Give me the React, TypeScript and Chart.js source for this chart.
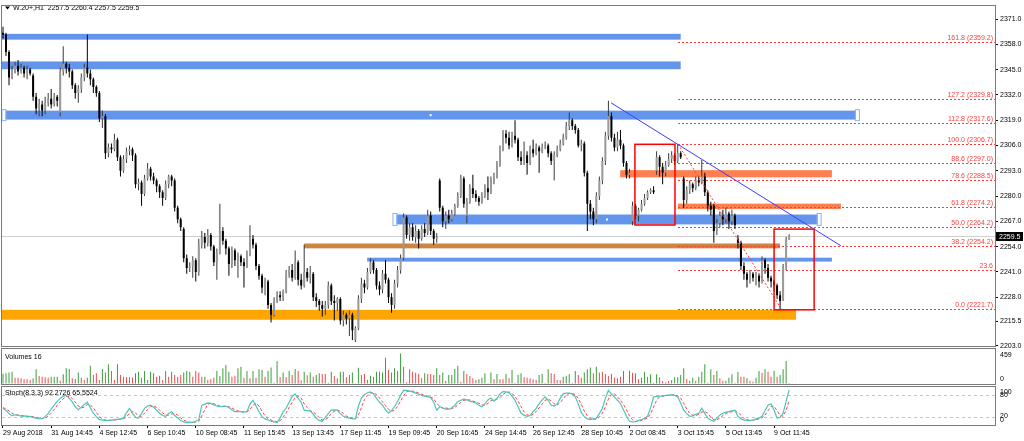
import React, { useEffect, useRef } from 'react';
import { Chart, registerables } from 'chart.js';

Chart.register(...registerables);

// ---------- price data (H1 bars, W.20+) ----------
const OPEN = [
  2364,2363,2354,2341,2345,2347,2344,2346,2343,2345,
  2342,2331,2325,2327,2324,2328,2330,2327,2331,2323,
  2344,2348,2346,2344,2337,2333,2335,2341,2346,2343,
  2340,2336,2333,2320,2321,2302,2305,2304,2309,2300,
  2293,2299,2303,2304,2301,2286,2287,2281,2289,2294,
  2290,2288,2285,2282,2279,2286,2290,2288,2274,2268,
  2263,2248,2243,2244,2247,2241,2255,2259,2256,2260,
  2254,2246,2251,2262,2257,2253,2245,2252,2247,2249,
  2246,2244,2250,2258,2255,2244,2239,2233,2236,2224,
  2219,2226,2229,2228,2231,2240,2242,2238,2246,2237,
  2234,2241,2238,2240,2228,2226,2224,2222,2224,2234,
  2226,2225,2227,2216,2219,2217,2219,2206,2212,2227,
  2235,2233,2241,2246,2242,2234,2232,2240,2237,2228,
  2224,2235,2242,2248,2269,2260,2264,2259,2262,2258,
  2263,2261,2270,2262,2258,2288,2274,2267,2270,2268,
  2271,2275,2280,2289,2270,2277,2284,2281,2279,2277,
  2280,2284,2282,2288,2290,2296,2304,2312,2310,2306,
  2311,2309,2300,2298,2301,2297,2304,2302,2305,2303,
  2305,2306,2302,2298,2301,2304,2307,2310,2316,2319,
  2316,2314,2306,2307,2292,2276,2272,2268,2280,2288,
  2298,2311,2321,2310,2305,2309,2306,2297,2291,2267,
  2275,2270,2273,2276,2279,2282,2283,2293,2300,2295,
  2292,2296,2299,2301,2298,2302,2289,2278,2283,2286,
  2284,2288,2287,2290,2282,2275,2275,2262,2266,2270,
  2268,2271,2267,2270,2258,2256,2244,2240,2237,2240,
  2238,2239,2236,2247,2243,2238,2236,2234,2229,2227,
  2243,2257.5,
];
const HIGH = [
  2367,2364,2355,2347,2349,2350,2348,2347,2347,2346,
  2343,2333,2330,2329,2331,2333,2335,2333,2332,2346,
  2357,2349,2348,2345,2338,2337,2343,2348,2363,2345,
  2341,2337,2334,2324,2322,2307,2307,2312,2310,2301,
  2301,2305,2306,2305,2302,2289,2288,2291,2297,2295,
  2292,2289,2286,2283,2288,2291,2291,2289,2275,2269,
  2264,2250,2246,2249,2248,2258,2262,2261,2263,2261,
  2255,2253,2276,2264,2258,2254,2254,2253,2251,2250,
  2248,2252,2265,2260,2256,2245,2240,2238,2237,2225,
  2228,2231,2231,2232,2242,2244,2245,2252,2247,2240,
  2255,2243,2244,2241,2230,2227,2226,2226,2236,2235,
  2229,2228,2228,2221,2220,2221,2220,2213,2229,2238,
  2237,2243,2248,2247,2243,2236,2242,2247,2238,2230,
  2237,2244,2250,2271,2270,2266,2266,2265,2263,2265,
  2266,2273,2272,2263,2261,2289,2275,2272,2273,2273,
  2276,2282,2291,2290,2279,2286,2291,2283,2280,2282,
  2286,2290,2290,2292,2298,2306,2314,2314,2313,2313,
  2319,2310,2303,2308,2303,2306,2309,2307,2306,2307,
  2308,2307,2303,2303,2306,2309,2312,2318,2323,2320,
  2317,2315,2309,2308,2293,2278,2274,2282,2290,2300,
  2313,2329,2323,2312,2313,2314,2307,2298,2294,2277,
  2276,2274,2278,2281,2283,2284,2285,2303,2301,2297,
  2298,2302,2303,2302,2306.7,2303,2290,2285,2288,2287,
  2290,2290,2298.5,2292,2283,2277,2276,2268,2272,2273,
  2274,2272,2273,2271,2260,2257,2246,2241,2242,2241,
  2241,2240,2249,2248,2245,2239,2237,2235,2231,2245,
  2259,2260.4,
];
const LOW = [
  2361,2352,2337,2340,2343,2342,2343,2341,2340,2342,
  2329,2322,2321,2321,2322,2326,2325,2326,2326,2321,
  2342,2343,2341,2335,2330,2328,2333,2339,2341,2337,
  2333,2331,2318,2315,2299,2300,2302,2303,2298,2290,
  2292,2297,2301,2298,2284,2283,2275,2280,2288,2288,
  2286,2282,2279,2275,2278,2284,2285,2272,2266,2262,
  2246,2240,2241,2238,2236,2239,2253,2253,2254,2252,
  2244,2237,2250,2255,2250,2239,2243,2244,2238,2244,
  2233,2243,2249,2253,2242,2237,2230,2229,2222,2215,
  2218,2225,2226,2226,2230,2238,2236,2237,2234,2232,
  2233,2236,2235,2226,2223,2221,2218,2219,2222,2224,
  2216,2221,2214,2213,2214,2208,2206,2205,2211,2225,
  2230,2232,2240,2240,2232,2229,2230,2235,2225,2220,
  2222,2233,2240,2247,2258,2257,2257,2256,2253,2257,
  2259,2260,2260,2255,2256,2272,2264,2263,2266,2267,
  2270,2274,2279,2274,2266,2276,2279,2277,2275,2276,
  2279,2278,2281,2286,2289,2295,2303,2307,2304,2305,
  2307,2298,2296,2296,2291,2296,2300,2301,2292,2302,
  2304,2300,2296,2288,2300,2303,2306,2309,2314,2314,
  2312,2305,2303,2290,2262,2268,2265,2266,2278,2286,
  2296,2309,2308,2303,2303,2304,2295,2289,2289,2265,
  2268,2267,2272,2275,2278,2281,2281,2291,2290,2286,
  2290,2295,2297,2296,2297,2299,2274,2276,2281,2282,
  2283,2285,2286,2280,2272,2270,2256,2260,2264,2265,
  2266,2263,2265,2263,2253,2242,2237,2233,2235,2236,
  2234,2233,2235,2240,2236,2233,2231,2227,2221.7,2226,
  2242,2257.5,
];
const CLOSE = [
  2363,2354,2341,2345,2347,2344,2346,2343,2345,2343,
  2331,2325,2327,2324,2328,2330,2327,2331,2329,2344,
  2348,2346,2344,2337,2333,2335,2341,2346,2343,2340,
  2336,2333,2320,2321,2302,2305,2304,2309,2300,2293,
  2299,2303,2304,2301,2286,2287,2281,2289,2294,2290,
  2288,2285,2282,2279,2286,2290,2288,2274,2268,2264,
  2248,2243,2244,2247,2241,2255,2259,2256,2260,2254,
  2246,2251,2262,2257,2253,2245,2252,2247,2249,2246,
  2244,2250,2258,2255,2244,2239,2233,2236,2224,2219,
  2226,2229,2228,2231,2240,2242,2238,2246,2237,2234,
  2241,2238,2240,2228,2226,2224,2222,2224,2234,2226,
  2225,2227,2216,2219,2217,2219,2211,2212,2227,2235,
  2233,2241,2246,2242,2234,2232,2240,2237,2228,2224,
  2235,2242,2248,2269,2260,2264,2259,2262,2258,2263,
  2261,2270,2262,2258,2259,2274,2267,2270,2268,2271,
  2275,2280,2289,2276,2277,2284,2281,2279,2277,2280,
  2284,2282,2288,2290,2296,2304,2312,2310,2306,2311,
  2309,2300,2298,2301,2297,2304,2302,2305,2303,2305,
  2306,2302,2298,2301,2304,2307,2310,2316,2319,2316,
  2314,2306,2307,2292,2276,2272,2268,2280,2288,2298,
  2311,2321,2310,2305,2309,2306,2297,2291,2292,2275,
  2270,2273,2276,2279,2282,2283,2282,2300,2295,2292,
  2296,2299,2301,2298,2302,2300,2278,2283,2286,2284,
  2288,2287,2290,2282,2275,2273,2262,2266,2270,2268,
  2271,2267,2270,2265,2256,2244,2240,2237,2240,2238,
  2239,2236,2247,2243,2238,2236,2234,2229,2226,2243,
  2257.5,2259.5,
];

// ---------- volumes ----------
const VOLUME = [
  150,160,172,182,94,94,84,69,74,59,84,217,
  118,108,99,94,108,108,108,49,143,232,
  222,84,74,172,94,59,94,271,133,158,
  59,222,172,291,192,59,291,133,108,99,
  99,94,158,182,94,192,59,182,158,108,
  123,59,192,108,182,133,108,133,172,192,
  182,108,192,172,108,108,59,69,94,192,
  118,232,281,182,108,123,232,256,94,192,
  84,192,94,217,207,108,
  192,246,20,340,99,172,99,197,133,222,
  192,54,182,128,172,108,133,158,148,148,
  20,182,118,84,182,182,99,133,172,10,
  241,133,148,59,123,108,182,182,172,389,
  207,172,232,192,453,256,25,217,182,168,
  148,84,158,148,148,133,232,133,172,44,
  133,133,222,271,35,192,148,118,84,59,
  69,94,158,10,172,69,148,69,69,148,
  84,207,20,133,158,99,94,
  84,69,59,133,148,20,217,158,148,59,
  59,108,123,143,20,192,133,94,172,217,
  246,158,256,172,182,148,118,148,94,84,
  108,192,10,197,168,158,69,94,182,108,
  143,20,143,99,44,25,44,59,99,99,
  133,232,74,49,94,49,108,182,291,20,
  217,133,192,84,49,49,94,143,20,182,
  108,108,84,49,35,94,192,168,217,182,
  108,197,108,133,217,340,16,
];
const VOLUME_UP = [
  1,1,
  1,1,0,0,0,0,0,0,1,1, 0,0,0,0,1,1,1,0,1,1, 1,0,1,1,0,0,1,1,0,0,
  0,1,0,1,0,0,1,0,0,0, 0,0,1,1,0,1,0,1,1,0, 1,0,1,0,1,0,0,0,1,1,
  1,0,0,0,0,1,0,0,0,1, 1,1,1,1,0,0,1,1,0,1, 0,1,0,1,1,0,
  1,1,0,1,0,1,0,1,0,1, 0,0,1,0,1,0,1,1,0,0, 1,1,0,0,1,1,0,1,1,0,
  1,0,0,0,1,0,1,0,1,1, 0,0,1,0,1,0,0,0,0,0, 0,0,1,0,0,0,1,0,1,0,
  1,1,1,1,0,1,0,0,0,0, 1,1,1,0,1,0,1,0,0,1, 0,1,0,1,1,0,0,
  0,0,0,1,1,0,1,0,0,0, 0,1,1,1,0,1,0,0,1,1, 1,0,1,0,0,0,0,1,0,0,
  0,1,0,1,0,0,0,1,1,0, 1,0,1,0,0,0,0,1,1,1, 1,1,0,1,1,0,1,1,1,0,
  1,0,1,0,0,1,1,1,0,1, 0,0,1,0,0,1,1,0,1,0, 0,1,0,1,1,1,0,
];

// ---------- stochastic (8,3,3) ----------
const STOCH_MAIN = [
  44,38,30,24,27,26,23,24,23,22,
  20,18,16,17,22,30,42,52,62,70,
  76,78,70,61,48,40,47,54,60,45,
  31,22,14,13,12,12,13,14,15,16,
  18,32,44,31,20,18,30,44,50,52,
  47,39,31,25,23,30,35,25,18,12,
  8,7,7,7,10,14,52,55,58,57,
  53,50,48,49,50,46,40,35,35,35,
  34,35,55,65,50,35,22,16,13,10,
  8,7,18,35,44,60,75,82,70,60,
  39,38,37,28,18,12,10,20,30,39,
  40,39,30,23,20,18,16,16,50,70,
  80,85,87,82,70,60,52,40,31,38,
  48,62,78,91,91,89,87,84,81,78,
  76,74,72,60,39,48,45,42,41,45,
  52,61,65,68,66,63,61,58,52,48,
  56,66,71,63,70,82,88,87,85,76,
  65,48,31,26,23,25,35,44,56,66,
  74,65,52,50,56,70,82,84,84,82,
  74,55,33,22,16,14,16,18,30,44,
  70,91,82,74,65,56,40,23,10,8,
  9,12,14,18,23,45,74,75,76,76,
  78,79,80,78,74,58,39,30,23,24,
  28,31,44,30,18,13,10,18,26,31,
  34,35,37,39,23,16,13,12,12,13,
  16,18,23,38,52,56,39,18,20,31,
  62,92.2726,
];
const STOCH_SIGNAL = [
  46,42,37,31,27,26,25,24,23,23,
  22,20,18,17,18,23,31,41,52,61,
  69,75,75,70,60,50,45,47,54,53,
  45,33,22,16,13,12,12,13,14,15,
  16,22,31,36,32,23,23,31,41,49,
  50,46,39,32,26,26,29,30,26,18,
  13,9,7,7,8,10,25,40,55,57,
  56,53,50,49,49,48,45,40,37,35,
  35,35,41,52,57,50,36,24,17,13,
  10,8,11,20,32,46,60,72,76,71,
  56,46,38,34,28,19,13,14,20,30,
  36,39,36,31,24,20,18,17,27,45,
  67,78,84,85,80,71,61,51,41,36,
  39,49,63,77,87,90,89,87,84,81,
  78,76,74,69,57,49,44,45,43,43,
  46,53,59,65,66,66,63,61,57,53,
  52,57,64,67,68,72,80,86,87,83,
  75,63,48,35,27,25,28,35,45,55,
  65,68,64,56,53,59,69,79,83,83,
  80,70,54,37,24,17,15,16,21,31,
  48,68,81,82,74,65,54,40,24,14,
  9,10,12,15,18,29,47,65,75,76,
  77,78,79,79,77,70,57,42,31,26,
  25,28,34,35,31,20,14,14,18,25,
  30,33,35,37,33,26,17,14,12,12,
  14,16,19,26,38,49,49,38,26,23,
  38,65.5524,
];
const STOCH_LEVELS = [20, 80];

// ---------- axis labels ----------
const TIME_LABELS = [
  '29 Aug 2018', '31 Aug 14:45', '4 Sep 12:45', '6 Sep 10:45', '10 Sep 08:45',
  '11 Sep 15:45', '13 Sep 13:45', '17 Sep 11:45', '19 Sep 09:45', '20 Sep 16:45',
  '24 Sep 14:45', '26 Sep 12:45', '28 Sep 10:45', '2 Oct 08:45', '3 Oct 15:45',
  '5 Oct 13:45', '9 Oct 11:45',
];
const TIME_LABEL_BARS = [0, 16, 32, 48, 64, 80, 96, 112, 128, 144, 160, 176, 192, 208, 224, 240, 256];
const PRICE_TICKS = [2371.0, 2358.0, 2345.0, 2332.0, 2319.0, 2306.0, 2293.0, 2280.0, 2267.0, 2254.0, 2241.0, 2228.0, 2215.5, 2203.0];
const VOLUME_AXIS_LABELS = [459, 0];
const STOCH_AXIS_LABELS = ['80', '100', '20', '0'];

// ---------- drawn objects (bar index / price) ----------
const HEADER = 'W.20+,H1  2257.5 2260.4 2257.5 2259.5';
const VOLUME_TITLE = 'Volumes 16';
const STOCH_TITLE = 'Stoch(8,3,3) 92.2726 65.5524';
const CURRENT_PRICE = 2259.5;
const ZONES = [
  { from: -1, to: 225, top: 2363.4, bottom: 2360.4, kind: 'blue', selected: false },
  { from: -1, to: 225, top: 2349.2, bottom: 2345.2, kind: 'blue', selected: false },
  { from: 0, to: 284, top: 2323.9, bottom: 2319.3, kind: 'blue', selected: true },
  { from: 129.8, to: 271.3, top: 2270.5, bottom: 2265.4, kind: 'blue', selected: true },
  { from: 120.9, to: 275.2, top: 2248.3, bottom: 2246.3, kind: 'blue', selected: false },
  { from: 100, to: 258, top: 2255.6, bottom: 2253.1, kind: 'peru', selected: false },
  { from: -1, to: 263.3, top: 2221.5, bottom: 2216.4, kind: 'orange', selected: false },
  { from: 204.9, to: 275.2, top: 2293.3, bottom: 2289.6, kind: 'coral', selected: false },
  { from: 224.1, to: 278.2, top: 2276.1, bottom: 2273.3, kind: 'coral', selected: false },
];
const BOXES = [
  { from: 209.8, to: 223.1, top: 2306.6, bottom: 2265.1 },
  { from: 256, to: 269.3, top: 2263.0, bottom: 2221.5 },
];
const TRENDLINE = { from: 201.9, fromPrice: 2327.9, to: 278.2, toPrice: 2254.4 };
const FIB_SWING = { fromBar: 224.1, high: 2306.7, toBar: 258.5, low: 2221.7 };
const FIB_LABELS = ['161.8 (2359.2)', '127.2 (2329.8)', '112.8 (2317.6)', '100.0 (2306.7)', '88.6 (2297.0)', '78.6 (2288.5)', '61.8 (2274.2)', '50.0 (2264.2)', '38.2 (2254.2)', '23.6', '0.0 (2221.7)'];
const FIB_PRICES = [2359.2, 2329.8, 2317.6, 2306.7, 2297.0, 2288.5, 2274.2, 2264.2, 2254.2, 2241.8, 2221.7];

// ---------- styling ----------
const FONT = '"Liberation Sans", Arial, sans-serif';
const X_MIN = -0.33;
const X_MAX = 329.35;
const AXIS_W = 29;
const ZONE_COLORS: any = { blue: '#6495ed', peru: '#cd853f', orange: '#ffa500', coral: '#ff7f50' };
const FIB_COLOR = '#ff3c3c';

const BARS = CLOSE.map((_, i) => i);

function xAxis(extra: any = {}) {
  return {
    type: 'linear',
    min: X_MIN,
    max: X_MAX,
    offset: false,
    display: false,
    ...extra,
  };
}

const framePlugin = {
  id: 'frame',
  afterDraw(chart: any) {
    const { ctx, chartArea: a } = chart;
    ctx.save();
    ctx.strokeStyle = '#7a7a7a';
    ctx.lineWidth = 1;
    ctx.setLineDash([]);
    ctx.strokeRect(Math.round(a.left) - 0.5, Math.round(a.top) - 0.5, Math.round(a.right - a.left) + 1, Math.round(a.bottom - a.top) + 1);
    ctx.restore();
  },
};

const mainOverlay = {
  id: 'mainOverlay',
  beforeDatasetsDraw(chart: any) {
    const { ctx, chartArea: a, scales } = chart;
    const x = scales.x, y = scales.y;
    ctx.save();
    ctx.beginPath();
    ctx.rect(a.left, a.top, a.right - a.left, a.bottom - a.top);
    ctx.clip();
    // current price line
    const yp = Math.round(y.getPixelForValue(CURRENT_PRICE)) + 0.5;
    ctx.strokeStyle = '#cfcfcf';
    ctx.lineWidth = 1;
    ctx.beginPath();
    ctx.moveTo(a.left, yp);
    ctx.lineTo(a.right, yp);
    ctx.stroke();
    // zones
    for (const z of ZONES) {
      const x0 = x.getPixelForValue(z.from), x1 = x.getPixelForValue(z.to);
      const y0 = y.getPixelForValue(z.top), y1 = y.getPixelForValue(z.bottom);
      ctx.fillStyle = ZONE_COLORS[z.kind];
      ctx.fillRect(x0, y0, x1 - x0, y1 - y0);
    }
    // fib levels
    const fx = Math.round(x.getPixelForValue(FIB_SWING.fromBar));
    for (const p of FIB_PRICES) {
      const fy = Math.round(y.getPixelForValue(p)) + 0.5;
      ctx.strokeStyle = FIB_COLOR;
      ctx.lineWidth = 1;
      ctx.setLineDash([2, 2]);
      ctx.beginPath();
      ctx.moveTo(fx, fy);
      ctx.lineTo(a.right, fy);
      ctx.stroke();
    }
    ctx.restore();
  },
  afterDatasetsDraw(chart: any) {
    const { ctx, chartArea: a, scales } = chart;
    const x = scales.x, y = scales.y;
    ctx.save();
    ctx.beginPath();
    ctx.rect(a.left, a.top, a.right - a.left, a.bottom - a.top);
    ctx.clip();
    // fib diagonal
    ctx.strokeStyle = FIB_COLOR;
    ctx.setLineDash([2, 2]);
    ctx.lineWidth = 1;
    ctx.beginPath();
    ctx.moveTo(x.getPixelForValue(FIB_SWING.fromBar), y.getPixelForValue(FIB_SWING.high));
    ctx.lineTo(x.getPixelForValue(FIB_SWING.toBar), y.getPixelForValue(FIB_SWING.low));
    ctx.stroke();
    ctx.setLineDash([]);
    // red boxes
    ctx.strokeStyle = '#ff0000';
    ctx.lineWidth = 1.5;
    for (const b of BOXES) {
      const x0 = x.getPixelForValue(b.from), x1 = x.getPixelForValue(b.to);
      const y0 = y.getPixelForValue(b.top), y1 = y.getPixelForValue(b.bottom);
      ctx.strokeRect(x0, y0, x1 - x0, y1 - y0);
    }
    // trendline
    ctx.strokeStyle = '#3c3cff';
    ctx.lineWidth = 1;
    ctx.beginPath();
    ctx.moveTo(x.getPixelForValue(TRENDLINE.from), y.getPixelForValue(TRENDLINE.fromPrice));
    ctx.lineTo(x.getPixelForValue(TRENDLINE.to), y.getPixelForValue(TRENDLINE.toPrice));
    ctx.stroke();
    // selection handles
    for (const z of ZONES) {
      if (!z.selected) continue;
      const x0 = x.getPixelForValue(z.from), x1 = x.getPixelForValue(z.to);
      const y0 = y.getPixelForValue(z.top), y1 = y.getPixelForValue(z.bottom);
      ctx.lineWidth = 1;
      ctx.strokeStyle = '#8fb2f2';
      ctx.fillStyle = '#ffffff';
      for (const hx of [x0 + 1, x1 - 1]) {
        ctx.fillRect(hx - 1.5, y0 - 0.5, 3, y1 - y0 + 1);
        ctx.strokeRect(hx - 2, y0 - 1, 4, y1 - y0 + 2);
      }
      ctx.fillRect((x0 + x1) / 2 - 1, (y0 + y1) / 2 - 1, 2, 2);
    }
    ctx.restore();
  },
  afterDraw(chart: any) {
    const { ctx, chartArea: a, scales } = chart;
    const y = scales.y;
    ctx.save();
    ctx.font = `7px ${FONT}`;
    // header
    ctx.fillStyle = '#000';
    ctx.beginPath();
    ctx.moveTo(5, 6.5);
    ctx.lineTo(10, 6.5);
    ctx.lineTo(7.5, 9.5);
    ctx.closePath();
    ctx.fill();
    ctx.textBaseline = 'middle';
    ctx.textAlign = 'left';
    ctx.fillText(HEADER, 13, 8.5);
    // fib labels
    ctx.fillStyle = FIB_COLOR;
    ctx.textAlign = 'right';
    ctx.textBaseline = 'bottom';
    FIB_LABELS.forEach((t, k) => {
      const fy = Math.round(y.getPixelForValue(FIB_PRICES[k]));
      ctx.fillText(t, a.right - 2, fy);
    });
    // current price box
    const yp = Math.round(y.getPixelForValue(CURRENT_PRICE)) + 0.5;
    ctx.fillStyle = '#000';
    ctx.fillRect(a.right + 1, yp - 4.5, 27, 9);
    ctx.fillStyle = '#fff';
    ctx.textAlign = 'left';
    ctx.textBaseline = 'middle';
    ctx.fillText(CURRENT_PRICE.toFixed(1), a.right + 4, yp + 0.5);
    ctx.restore();
  },
};

const volumeOverlay = {
  id: 'volumeOverlay',
  afterDraw(chart: any) {
    const { ctx, chartArea: a, scales } = chart;
    const y = scales.y;
    ctx.save();
    ctx.font = `7px ${FONT}`;
    ctx.fillStyle = '#000';
    ctx.textBaseline = 'middle';
    ctx.textAlign = 'left';
    ctx.fillText(VOLUME_TITLE, 5, a.top + 8);
    ctx.fillText(String(VOLUME_AXIS_LABELS[0]), a.right + 5, y.getPixelForValue(VOLUME_AXIS_LABELS[0]) + 2);
    ctx.fillText(String(VOLUME_AXIS_LABELS[1]), a.right + 5, y.getPixelForValue(VOLUME_AXIS_LABELS[1]) - 5);
    ctx.restore();
  },
};

const stochOverlay = {
  id: 'stochOverlay',
  beforeDatasetsDraw(chart: any) {
    const { ctx, chartArea: a, scales } = chart;
    const y = scales.y;
    ctx.save();
    ctx.strokeStyle = '#c4c4c4';
    ctx.setLineDash([3, 3]);
    ctx.lineWidth = 1;
    for (const lv of STOCH_LEVELS) {
      const ly = Math.round(y.getPixelForValue(lv)) + 0.5;
      ctx.beginPath();
      ctx.moveTo(a.left, ly);
      ctx.lineTo(a.right, ly);
      ctx.stroke();
    }
    ctx.restore();
  },
  afterDraw(chart: any) {
    const { ctx, chartArea: a, scales } = chart;
    const y = scales.y;
    ctx.save();
    ctx.font = `7px ${FONT}`;
    ctx.fillStyle = '#000';
    ctx.textBaseline = 'middle';
    ctx.textAlign = 'left';
    ctx.fillText(STOCH_TITLE, 5, a.top + 6);
    const y80 = y.getPixelForValue(80), y20 = y.getPixelForValue(20);
    ctx.fillText(STOCH_AXIS_LABELS[0], a.right + 5, y80);
    ctx.fillText(STOCH_AXIS_LABELS[1], a.right + 5, y80 - 2.5);
    ctx.fillText(STOCH_AXIS_LABELS[2], a.right + 5, y20 - 1);
    ctx.fillText(STOCH_AXIS_LABELS[3], a.right + 5, y20 + 2.5);
    ctx.restore();
  },
};

function hiddenY(min: number, max: number) {
  return {
    position: 'right',
    min,
    max,
    afterFit: (s: any) => { s.width = AXIS_W; },
    ticks: { display: false },
    grid: { drawOnChartArea: false, drawTicks: false },
    border: { display: true, color: '#7a7a7a' },
  };
}

const isUp = (i: number) => CLOSE[i] >= OPEN[i];

export default function App() {
  const mainRef = useRef<HTMLCanvasElement>(null);
  const volRef = useRef<HTMLCanvasElement>(null);
  const stoRef = useRef<HTMLCanvasElement>(null);

  useEffect(() => {
    const common = {
      animation: false,
      responsive: false,
      maintainAspectRatio: false,
      events: [],
      plugins: { legend: { display: false }, tooltip: { enabled: false } },
    };

    const main = new Chart(mainRef.current as HTMLCanvasElement, {
      type: 'bar',
      data: {
        datasets: [
          {
            label: 'wick',
            data: BARS.map((i) => ({ x: i, y: [LOW[i], HIGH[i]] })),
            barThickness: 1,
            grouped: false,
            inflateAmount: 0,
            borderWidth: 0,
            order: 2,
            backgroundColor: (c: any) => (isUp(c.dataIndex) ? '#3a3a3a' : '#000000'),
          },
          {
            label: 'body',
            data: BARS.map((i) => ({ x: i, y: [OPEN[i], CLOSE[i]] })),
            barThickness: 2,
            grouped: false,
            inflateAmount: 0,
            borderWidth: 0,
            minBarLength: 1,
            order: 1,
            backgroundColor: (c: any) => (isUp(c.dataIndex) ? '#9a9a9a' : '#000000'),
          },
        ],
      } as any,
      options: {
        ...common,
        layout: { padding: { left: 2, top: 2, right: 0, bottom: 6 } },
        scales: {
          x: xAxis(),
          y: {
            position: 'right',
            min: 2203.0,
            max: 2377.6,
            afterBuildTicks: (s: any) => { s.ticks = PRICE_TICKS.map((v) => ({ value: v })); },
            afterFit: (s: any) => { s.width = AXIS_W; },
            ticks: {
              autoSkip: false,
              callback: (v: any) => Number(v).toFixed(1),
              font: { family: FONT, size: 7 },
              color: '#000',
              padding: 2,
            },
            grid: { drawOnChartArea: false, drawTicks: true, tickLength: 3, color: '#000' },
            border: { display: true, color: '#7a7a7a' },
          },
        },
      } as any,
      plugins: [mainOverlay, framePlugin],
    });

    const vol = new Chart(volRef.current as HTMLCanvasElement, {
      type: 'bar',
      data: {
        datasets: [
          {
            label: 'Volumes',
            data: BARS.map((i) => ({ x: i, y: VOLUME[i] })),
            barThickness: 1,
            grouped: false,
            inflateAmount: 0,
            borderWidth: 0,
            backgroundColor: (c: any) => (VOLUME_UP[c.dataIndex] ? '#3c9c3c' : '#f04a4a'),
          },
        ],
      } as any,
      options: {
        ...common,
        layout: { padding: { left: 2, top: 1, right: 0, bottom: 2 } },
        scales: { x: xAxis(), y: hiddenY(0, 518) },
      } as any,
      plugins: [volumeOverlay, framePlugin],
    });

    const sto = new Chart(stoRef.current as HTMLCanvasElement, {
      type: 'line',
      data: {
        datasets: [
          {
            label: 'main',
            data: BARS.map((i) => ({ x: i, y: STOCH_MAIN[i] })),
            borderColor: '#4cc4bc',
            borderWidth: 1.2,
            pointRadius: 0,
            tension: 0,
            order: 1,
          },
          {
            label: 'signal',
            data: BARS.map((i) => ({ x: i, y: STOCH_SIGNAL[i] })),
            borderColor: '#ff4040',
            borderWidth: 1,
            borderDash: [3, 2],
            pointRadius: 0,
            tension: 0,
            order: 2,
          },
        ],
      } as any,
      options: {
        ...common,
        layout: { padding: { left: 2, top: 1, right: 0, bottom: 0 } },
        scales: {
          x: xAxis({
            display: true,
            position: 'bottom',
            afterBuildTicks: (s: any) => { s.ticks = TIME_LABEL_BARS.map((v) => ({ value: v })); },
            afterFit: (s: any) => { s.height = 16; },
            ticks: {
              autoSkip: false,
              maxRotation: 0,
              minRotation: 0,
              align: 'start',
              padding: 1,
              font: { family: FONT, size: 7 },
              color: '#000',
              callback: (v: any) => {
                const k = TIME_LABEL_BARS.indexOf(Number(v));
                return k >= 0 ? TIME_LABELS[k] : '';
              },
            },
            grid: { drawOnChartArea: false, drawTicks: true, tickLength: 3, color: '#000', offset: false },
            border: { display: true, color: '#7a7a7a' },
          }),
          y: hiddenY(0, 100),
        },
      } as any,
      plugins: [stochOverlay, framePlugin],
    });

    return () => {
      main.destroy();
      vol.destroy();
      sto.destroy();
    };
  }, []);

  return (
    <div style={{ position: 'absolute', left: 0, top: 0, width: 1024, height: 441, background: '#ffffff', overflow: 'hidden' }}>
      <canvas ref={mainRef} width={1024} height={352} style={{ position: 'absolute', left: 0, top: 0, width: 1024, height: 352 }} />
      <canvas ref={volRef} width={1024} height={38} style={{ position: 'absolute', left: 0, top: 348, width: 1024, height: 38 }} />
      <canvas ref={stoRef} width={1024} height={55} style={{ position: 'absolute', left: 0, top: 386, width: 1024, height: 55 }} />
    </div>
  );
}
